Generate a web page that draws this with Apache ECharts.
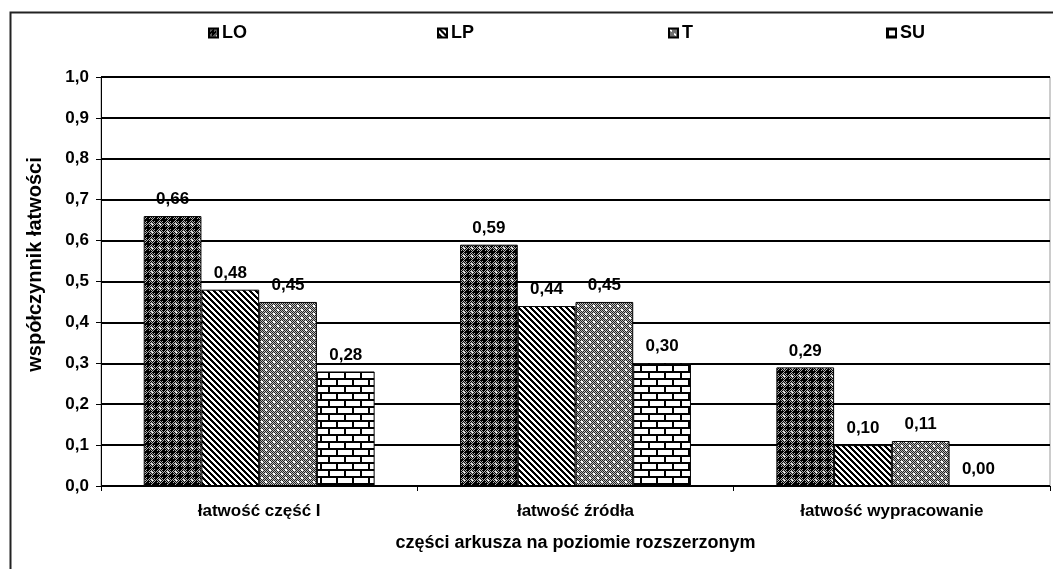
<!DOCTYPE html>
<html>
<head>
<meta charset="utf-8">
<script src="https://cdn.jsdelivr.net/npm/echarts@6/dist/echarts.min.js"></script>
<style>html,body{margin:0;padding:0;background:#fff}#c{width:1053px;height:569px}</style>
</head>
<body>
<div id="c"></div>
<script>
const categories = ['łatwość część I', 'łatwość źródła', 'łatwość wypracowanie'];
const seriesNames = ['LO', 'LP', 'T', 'SU'];
const valuesLO = [0.66, 0.59, 0.29];
const valuesLP = [0.48, 0.44, 0.10];
const valuesT = [0.45, 0.45, 0.11];
const valuesSU = [0.28, 0.30, 0.00];
const yTicks = [0, 0.1, 0.2, 0.3, 0.4, 0.5, 0.6, 0.7, 0.8, 0.9, 1.0];

function makeCanvas(w, h, draw) {
  const c = document.createElement('canvas');
  c.width = w; c.height = h;
  const ctx = c.getContext('2d');
  draw(ctx, w, h);
  return c;
}
function px(ctx, x, y, col) { ctx.fillStyle = col; ctx.fillRect(x, y, 1, 1); }

const patLO = makeCanvas(8, 8, (ctx, w, h) => {
  for (let y = 0; y < h; y++) for (let x = 0; x < w; x++) {
    px(ctx, x, y, ((x + y) % 2 === 0) ? '#000' : '#b0b0b0');
  }
  ctx.fillStyle = '#000';
  ctx.fillRect(3, 1, 2, 6);
  ctx.fillRect(1, 3, 6, 2);
  px(ctx, 0, 0, '#fff');
  px(ctx, 7, 7, '#e0e0e0');
});
const patLP = makeCanvas(6, 6, (ctx, w, h) => {
  for (let y = 0; y < h; y++) for (let x = 0; x < w; x++) {
    const m = ((x - y) % 6 + 6) % 6;
    px(ctx, x, y, m < 3 ? '#000' : '#fff');
  }
});
const patT = makeCanvas(8, 8, (ctx, w, h) => {
  for (let y = 0; y < h; y++) for (let x = 0; x < w; x++) {
    px(ctx, x, y, ((x + y) % 2 === 0) ? '#222' : '#bdbdbd');
  }
  ctx.fillStyle = '#fff';
  ctx.fillRect(1, 1, 2, 2);
  ctx.fillRect(5, 5, 2, 2);
});
const patSU = makeCanvas(16, 14, (ctx, w, h) => {
  ctx.fillStyle = '#fff'; ctx.fillRect(0, 0, w, h);
  ctx.fillStyle = '#000';
  ctx.fillRect(0, 0, w, 2);
  ctx.fillRect(0, 7, w, 2);
  ctx.fillRect(0, 0, 2, 7);
  ctx.fillRect(8, 7, 2, 7);
});
const patterns = [patLO, patLP, patT, patSU];
const allValues = [valuesLO, valuesLP, valuesT, valuesSU];
const legendLeft = [203, 432, 663, 881];

const FONT = '"Liberation Sans", Arial, sans-serif';

const chart = echarts.init(document.getElementById('c'), null, { renderer: 'canvas' });
const option = {
  backgroundColor: '#fff',
  animation: false,
  graphic: [{
    type: 'rect', left: 8, top: 10, silent: true,
    shape: { x: 0, y: 0, width: 1100, height: 600 },
    style: { fill: 'none', stroke: '#222', lineWidth: 2 }
  }],
  legend: seriesNames.map((n, i) => ({
    data: [n], left: legendLeft[i], top: 19,
    itemWidth: 9, itemHeight: 9, itemGap: 4,
    icon: 'rect',
    textStyle: { fontFamily: FONT, fontWeight: 'bold', fontSize: 18, color: '#000', padding: [0, 0, 0, -1] }
  })),
  grid: {
    left: 101, top: 77, right: 3, bottom: 83,
    show: true, borderColor: '#999', borderWidth: 1
  },
  xAxis: {
    type: 'category', data: categories,
    axisLine: { show: true, lineStyle: { color: '#000', width: 1 } },
    axisTick: { show: true, length: 5, lineStyle: { color: '#000' } },
    axisLabel: { margin: 17, fontFamily: FONT, fontWeight: 'bold', fontSize: 17, color: '#000' },
    name: 'części arkusza na poziomie rozszerzonym',
    nameLocation: 'middle', nameGap: 48,
    nameTextStyle: { fontFamily: FONT, fontWeight: 'bold', fontSize: 18, color: '#000' }
  },
  yAxis: {
    type: 'value', min: 0, max: 1, interval: 0.1,
    axisLine: { show: true, lineStyle: { color: '#000', width: 1 } },
    axisTick: { show: true, length: 5, lineStyle: { color: '#000' } },
    splitLine: { show: true, lineStyle: { color: '#000', width: 2 } },
    axisLabel: {
      margin: 12, fontFamily: FONT, fontWeight: 'bold', fontSize: 17, color: '#000',
      formatter: v => v.toFixed(1).replace('.', ',')
    },
    name: 'współczynnik łatwości',
    nameLocation: 'middle', nameGap: 56, nameRotate: 90,
    nameTextStyle: { fontFamily: FONT, fontWeight: 'bold', fontSize: 20, color: '#000', padding: [0, 0, 0, 34] }
  },
  series: seriesNames.map((n, i) => ({
    name: n, type: 'bar', data: allValues[i],
    barGap: '0%', barCategoryGap: '27%',
    itemStyle: {
      color: { image: patterns[i], repeat: 'repeat' },
      borderColor: '#000', borderWidth: 1
    },
    label: {
      show: true, position: 'top', distance: 8,
      fontFamily: FONT, fontWeight: 'bold', fontSize: 17, color: '#000',
      formatter: p => p.value.toFixed(2).replace('.', ',')
    }
  }))
};
chart.setOption(option);
</script>
</body>
</html>
